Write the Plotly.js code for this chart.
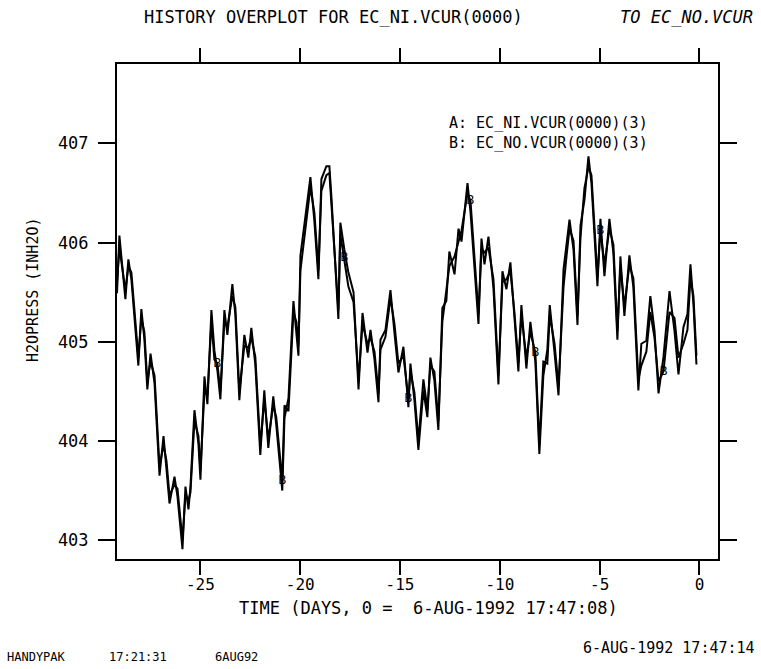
<!DOCTYPE html>
<html>
<head>
<meta charset="utf-8">
<script src="https://cdn.plot.ly/plotly-3.0.1.min.js"></script>
<style>
  html, body { margin: 0; padding: 0; background: #fff; }
  #chart { width: 761px; height: 669px; }
</style>
</head>
<body>
<div id="chart"></div>
<script>
// ---- data ----
const day = [
  -29.18, -29.06, -28.76, -28.61, -28.46, -28.16, -28.11, -27.96, -27.81, -27.66,
  -27.50, -27.30, -27.05, -26.85, -26.70, -26.55, -26.30, -26.15, -25.90, -25.75,
  -25.60, -25.50, -25.30, -25.10, -25.00, -24.80, -24.65, -24.45, -24.30, -24.15,
  -24.00, -23.80, -23.65, -23.40, -23.25, -23.05, -22.80, -22.60, -22.45, -22.25,
  -22.00, -21.80, -21.60, -21.35, -21.20, -20.90, -20.79, -20.59, -20.34, -20.19,
  -20.09, -19.99, -19.79, -19.49, -19.29, -19.09, -18.94, -18.69, -18.54, -18.44,
  -18.09, -17.99, -17.79, -17.59, -17.33, -17.08, -16.88, -16.63, -16.48, -16.28,
  -16.08, -15.98, -15.73, -15.48, -15.28, -15.08, -14.83, -14.58, -14.48, -14.28,
  -14.08, -13.83, -13.63, -13.48, -13.28, -13.08, -12.88, -12.68, -12.53, -12.27,
  -12.07, -11.92, -11.62, -11.47, -11.07, -10.92, -10.77, -10.57, -10.32, -10.07,
  -9.87, -9.67, -9.47, -9.27, -9.07, -8.92, -8.67, -8.47, -8.22, -8.02,
  -7.82, -7.62, -7.50, -7.26, -7.06, -6.81, -6.66, -6.51, -6.31, -6.11,
  -5.96, -5.76, -5.56, -5.41, -5.11, -4.96, -4.76, -4.51, -4.31, -4.11,
  -3.96, -3.76, -3.51, -3.31, -3.06, -2.91, -2.66, -2.46, -2.25, -2.05,
  -1.80, -1.50, -1.25, -1.05, -0.80, -0.60, -0.45, -0.30, -0.15
];

const h2oA = [ // A: EC_NI.VCUR(0000)(3)
  405.49, 406.07, 405.43, 405.83, 405.63, 404.89, 404.76, 405.33, 405.03, 404.52,
  404.88, 404.58, 403.65, 404.05, 403.72, 403.37, 403.64, 403.44, 402.91, 403.54,
  403.31, 403.54, 404.31, 403.97, 403.61, 404.65, 404.37, 405.32, 404.91, 404.71,
  404.42, 405.32, 405.07, 405.58, 405.27, 404.41, 405.07, 404.84, 405.14, 404.77,
  403.86, 404.51, 403.93, 404.45, 404.16, 403.50, 404.23, 404.43, 405.41, 405.11,
  404.86, 405.87, 406.21, 406.66, 406.21, 405.63, 406.64, 406.77, 406.77, 406.47,
  405.23, 406.20, 405.93, 405.70, 405.50, 404.52, 405.29, 404.89, 405.12, 404.82,
  404.39, 405.02, 405.12, 405.52, 405.09, 404.69, 404.95, 404.34, 404.78, 404.41,
  403.91, 404.51, 404.24, 404.84, 404.61, 404.11, 405.34, 405.41, 405.91, 405.68,
  406.14, 406.01, 406.60, 406.31, 405.18, 406.04, 405.78, 406.06, 405.54, 404.57,
  405.71, 405.53, 405.80, 405.20, 404.70, 405.37, 404.73, 405.20, 404.80, 403.87,
  404.66, 404.92, 405.37, 404.89, 404.46, 405.73, 406.00, 406.23, 405.93, 405.17,
  406.17, 406.43, 406.87, 406.60, 405.56, 406.24, 405.66, 406.24, 405.89, 405.02,
  405.86, 405.26, 405.87, 405.55, 404.51, 404.98, 405.01, 405.46, 405.11, 404.48,
  404.85, 405.51, 405.11, 404.67, 405.15, 405.28, 405.78, 405.38, 404.77
];

const h2oB = [ // B: EC_NO.VCUR(0000)(3)
  405.60, 405.95, 405.52, 405.76, 405.70, 404.97, 404.84, 405.24, 405.10, 404.60,
  404.80, 404.66, 403.74, 403.96, 403.80, 403.45, 403.56, 403.52, 403.00, 403.46,
  403.40, 403.48, 404.20, 404.05, 403.70, 404.50, 404.46, 405.20, 404.82, 404.78,
  404.50, 405.20, 405.15, 405.46, 405.35, 404.50, 404.96, 404.94, 405.04, 404.85,
  403.95, 404.42, 404.02, 404.36, 404.24, 403.60, 404.36, 404.30, 405.30, 405.20,
  404.96, 405.72, 406.05, 406.56, 406.30, 405.72, 406.52, 406.68, 406.70, 406.38,
  405.32, 406.08, 405.84, 405.56, 405.40, 404.62, 405.18, 404.98, 405.04, 404.90,
  404.48, 404.92, 405.05, 405.44, 405.18, 404.78, 404.86, 404.42, 404.70, 404.49,
  404.00, 404.62, 404.32, 404.76, 404.70, 404.20, 405.20, 405.55, 405.76, 405.86,
  406.00, 406.12, 406.50, 406.42, 405.28, 405.94, 405.90, 405.95, 405.63, 404.66,
  405.60, 405.63, 405.71, 405.30, 404.79, 405.27, 404.84, 405.10, 404.89, 403.96,
  404.80, 404.78, 405.27, 404.98, 404.55, 405.55, 405.86, 406.14, 406.02, 405.26,
  406.05, 406.55, 406.76, 406.68, 405.65, 406.12, 405.78, 406.14, 405.98, 405.11,
  405.76, 405.36, 405.77, 405.64, 404.62, 404.76, 404.90, 405.30, 405.04, 404.60,
  404.70, 405.30, 405.24, 404.84, 404.98, 405.12, 405.64, 405.46, 404.86
];

// indices along curve B where the plotter wrote its "B" label
const markB = [29, 45, 62, 77, 93, 108, 125, 140];

const xTickVals = [-25, -20, -15, -10, -5, 0];
const xTickText = ['-25', '-20', '-15', '-10', '-5', '0'];
const yTickVals = [403, 404, 405, 406, 407];
const yTickText = ['403', '404', '405', '406', '407'];

const titleText = 'HISTORY OVERPLOT FOR EC_NI.VCUR(0000)';
const titleText2 = 'TO EC_NO.VCUR';
const legendA = 'A: EC_NI.VCUR(0000)(3)';
const legendB = 'B: EC_NO.VCUR(0000)(3)';
const xTitle = 'TIME (DAYS, 0 =\u00a0\u00a06-AUG-1992 17:47:08)';
const yTitle = 'H2OPRESS (INH2O)';
const footLeft = ['HANDYPAK', '17:21:31', '6AUG92'];
const footRight = '6-AUG-1992 17:47:14';

// ---- layout helpers (pixel -> paper) ----
const W = 761, H = 669;
const L = 117, R = 718, T = 64, B = 559;
const px = v => (v - L) / (R - L);
const py = v => (B - v) / (B - T);
const FONT = 'DejaVu Sans Mono, monospace';
const ink = '#000000';

const traces = [
  { x: day, y: h2oA, mode: 'lines', name: legendA,
    line: { color: ink, width: 2 }, hoverinfo: 'skip' },
  { x: day, y: h2oB, mode: 'lines', name: legendB,
    line: { color: ink, width: 2 }, hoverinfo: 'skip' },
  { x: markB.map(i => day[i]), y: markB.map(i => h2oB[i]), mode: 'text',
    text: markB.map(() => 'B'), textposition: 'middle center',
    textfont: { family: 'DejaVu Sans, sans-serif', size: 12, color: ink }, hoverinfo: 'skip' }
];

function ann(text, x, y, opts) {
  return Object.assign({
    text: text, xref: 'paper', yref: 'paper', x: px(x), y: py(y),
    showarrow: false, xanchor: 'left', yanchor: 'middle',
    font: { family: FONT, size: 17, color: ink }
  }, opts || {});
}

const layout = {
  width: W, height: H,
  margin: { l: L, r: W - R, t: T, b: H - B, pad: 0 },
  paper_bgcolor: '#fff', plot_bgcolor: '#fff',
  showlegend: false,
  title: {
    text: titleText, xref: 'container', yref: 'container',
    x: 144 / W, xanchor: 'left', y: 1 - 17 / H, yanchor: 'middle',
    font: { family: FONT, size: 17, color: ink }
  },
  xaxis: {
    range: [-29.18, 0.93], tickvals: xTickVals, ticktext: xTickText,
    ticks: 'outside', ticklen: 14, tickwidth: 2, tickcolor: ink,
    showline: true, linewidth: 2, linecolor: ink, mirror: 'ticks',
    showgrid: false, zeroline: false, ticklabelstandoff: -4,
    tickfont: { family: FONT, size: 16, color: ink }
  },
  yaxis: {
    range: [402.81, 407.80], tickvals: yTickVals, ticktext: yTickText,
    ticks: 'outside', ticklen: 17, tickwidth: 2, tickcolor: ink,
    showline: true, linewidth: 2, linecolor: ink, mirror: 'ticks',
    showgrid: false, zeroline: false, ticklabelstandoff: 6,
    tickfont: { family: FONT, size: 17, color: ink }
  },
  annotations: [
    ann('<i>' + titleText2 + '</i>', 755, 17, { xanchor: 'right', font: { family: FONT, size: 17, color: ink } }),
    ann(legendA + '<br>' + legendB, 447, 133, { align: 'left', font: { family: FONT, size: 15, color: ink } }),
    ann(yTitle, 33, 290, { xanchor: 'center', textangle: -90, font: { family: FONT, size: 15, color: ink } }),
    ann(xTitle, 428, 608, { xanchor: 'center', font: { family: FONT, size: 17, color: ink } }),
    ann(footLeft[0], 5, 657, { font: { family: FONT, size: 12, color: ink } }),
    ann(footLeft[1], 107, 657, { font: { family: FONT, size: 12, color: ink } }),
    ann(footLeft[2], 213, 657, { font: { family: FONT, size: 12, color: ink } }),
    ann(footRight, 757, 648, { xanchor: 'right', font: { family: FONT, size: 15, color: ink } })
  ]
};

Plotly.newPlot('chart', traces, layout, { staticPlot: true, displayModeBar: false });
</script>
</body>
</html>
